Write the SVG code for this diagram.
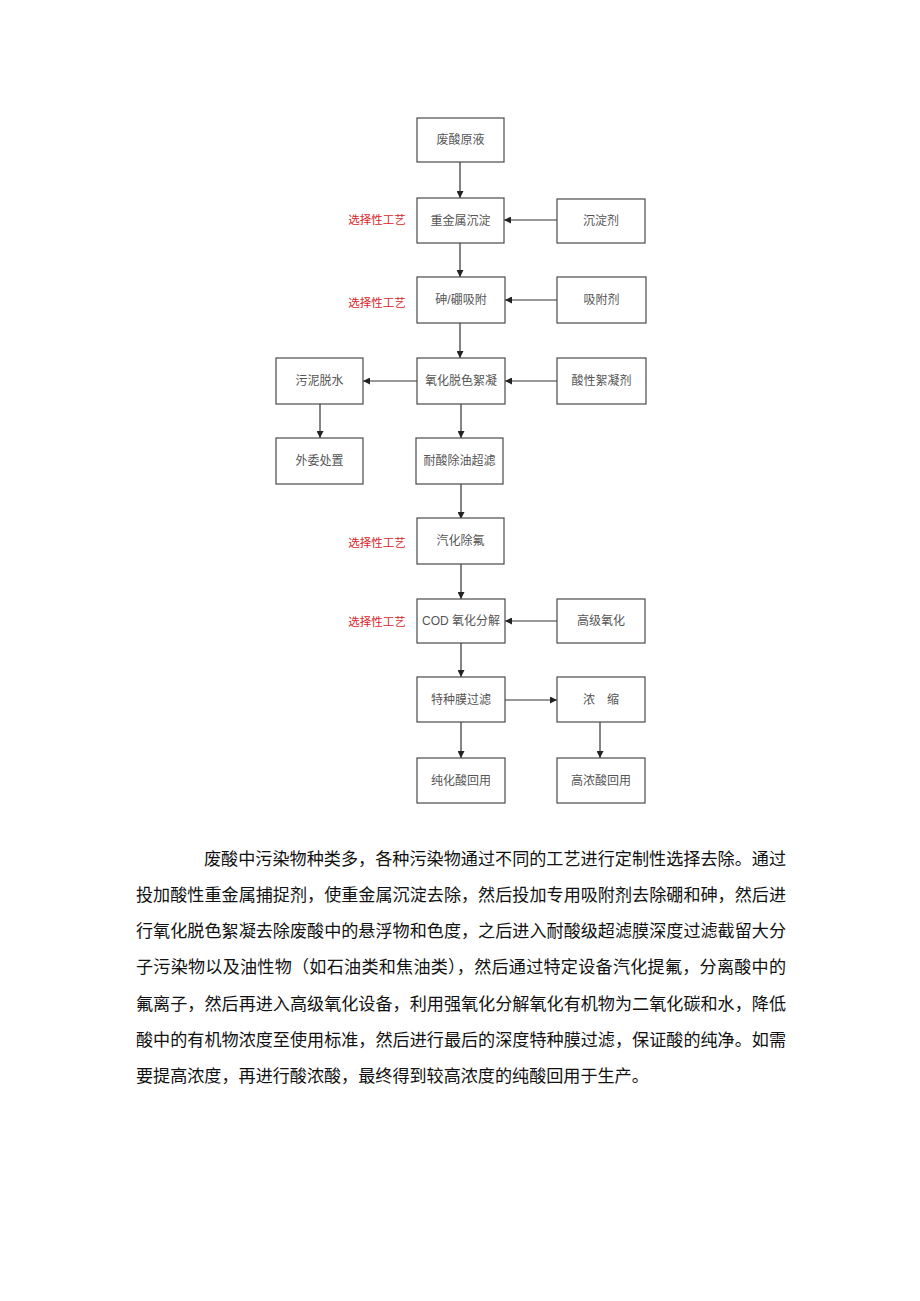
<svg xmlns="http://www.w3.org/2000/svg" width="920" height="1301" viewBox="0 0 920 1301">
<style>
.box{fill:#fff;stroke:#4a4a4a;stroke-width:1.2}
.bt{font-family:"Liberation Sans","Noto Sans CJK SC",sans-serif;font-size:12px;fill:#555;text-anchor:middle;dominant-baseline:central}
.red{font-family:"Liberation Sans","Noto Sans CJK SC",sans-serif;font-size:11.5px;fill:#d9252a;text-anchor:middle;dominant-baseline:central}
.ln{stroke:#333;stroke-width:1.2;fill:none;marker-end:url(#ah)}
.p{font-family:"Liberation Serif","Noto Sans CJK SC",serif;font-size:17.1px;fill:#111}
</style>
<defs>
<marker id="ah" viewBox="0 0 10 10" refX="10" refY="5" markerWidth="7" markerHeight="7" markerUnits="userSpaceOnUse" orient="auto">
<path d="M0,0 L10,5 L0,10 z" fill="#222"/>
</marker>
</defs>
<rect width="920" height="1301" fill="#fff"/>
<g id="connectors">
<line class="ln" x1="460" y1="162" x2="460" y2="198"/>
<line class="ln" x1="557" y1="220" x2="504" y2="220"/>
<line class="ln" x1="460" y1="243" x2="460" y2="277"/>
<line class="ln" x1="557" y1="300" x2="505" y2="300"/>
<line class="ln" x1="460" y1="323" x2="460" y2="358"/>
<line class="ln" x1="557" y1="381" x2="505" y2="381"/>
<line class="ln" x1="417" y1="381" x2="363" y2="381"/>
<line class="ln" x1="320" y1="404" x2="320" y2="438"/>
<line class="ln" x1="461" y1="404" x2="461" y2="438"/>
<line class="ln" x1="461" y1="484" x2="461" y2="519"/>
<line class="ln" x1="461" y1="564" x2="461" y2="599"/>
<line class="ln" x1="557" y1="621" x2="505" y2="621"/>
<line class="ln" x1="461" y1="643" x2="461" y2="677"/>
<line class="ln" x1="505" y1="700" x2="557" y2="700"/>
<line class="ln" x1="461" y1="722" x2="461" y2="758"/>
<line class="ln" x1="600" y1="722" x2="600" y2="758"/>
</g>
<g id="n1"><rect class="box" x="417" y="118" width="87" height="44"/><text class="bt" x="460.5" y="140">废酸原液</text></g>
<g id="n2"><rect class="box" x="417" y="198" width="87" height="45"/><text class="bt" x="460.5" y="220.5">重金属沉淀</text></g>
<g id="n2r"><rect class="box" x="557" y="199" width="88" height="44"/><text class="bt" x="601" y="221">沉淀剂</text></g>
<g id="n3"><rect class="box" x="417" y="277" width="88" height="46"/><text class="bt" x="461" y="300">砷/硼吸附</text></g>
<g id="n3r"><rect class="box" x="557" y="277" width="89" height="46"/><text class="bt" x="601.5" y="300">吸附剂</text></g>
<g id="n4"><rect class="box" x="417" y="358" width="88" height="46"/><text class="bt" x="461" y="381">氧化脱色絮凝</text></g>
<g id="n4l"><rect class="box" x="276" y="358" width="87" height="46"/><text class="bt" x="319.5" y="381">污泥脱水</text></g>
<g id="n4r"><rect class="box" x="557" y="358" width="89" height="46"/><text class="bt" x="601.5" y="381">酸性絮凝剂</text></g>
<g id="n5l"><rect class="box" x="276" y="438" width="87" height="46"/><text class="bt" x="319.5" y="461">外委处置</text></g>
<g id="n5"><rect class="box" x="416" y="438" width="87" height="46"/><text class="bt" x="459.5" y="461">耐酸除油超滤</text></g>
<g id="n6"><rect class="box" x="417" y="518" width="87" height="46"/><text class="bt" x="460.5" y="541">汽化除氟</text></g>
<g id="n7"><rect class="box" x="417" y="599" width="88" height="44"/><text class="bt" x="461" y="621">COD 氧化分解</text></g>
<g id="n7r"><rect class="box" x="557" y="599" width="88" height="44"/><text class="bt" x="601" y="621">高级氧化</text></g>
<g id="n8"><rect class="box" x="417" y="677" width="88" height="45"/><text class="bt" x="461" y="700">特种膜过滤</text></g>
<g id="n8r"><rect class="box" x="557" y="677" width="88" height="45"/><text class="bt" x="601" y="700">浓　缩</text></g>
<g id="n9"><rect class="box" x="417" y="758" width="88" height="45"/><text class="bt" x="461" y="781">纯化酸回用</text></g>
<g id="n9r"><rect class="box" x="557" y="758" width="88" height="45"/><text class="bt" x="601" y="781">高浓酸回用</text></g>
<g id="labels">
<text class="red" x="377" y="220">选择性工艺</text>
<text class="red" x="377" y="303">选择性工艺</text>
<text class="red" x="377" y="543">选择性工艺</text>
<text class="red" x="377" y="622">选择性工艺</text>
</g>
<g id="paragraph">
<text class="p" x="204" y="865" textLength="582" lengthAdjust="spacing">废酸中污染物种类多，各种污染物通过不同的工艺进行定制性选择去除。通过</text>
<text class="p" x="136" y="901" textLength="650" lengthAdjust="spacing">投加酸性重金属捕捉剂，使重金属沉淀去除，然后投加专用吸附剂去除硼和砷，然后进</text>
<text class="p" x="136" y="937" textLength="650" lengthAdjust="spacing">行氧化脱色絮凝去除废酸中的悬浮物和色度，之后进入耐酸级超滤膜深度过滤截留大分</text>
<text class="p" x="136" y="973" textLength="650" lengthAdjust="spacing">子污染物以及油性物（如石油类和焦油类），然后通过特定设备汽化提氟，分离酸中的</text>
<text class="p" x="136" y="1010" textLength="650" lengthAdjust="spacing">氟离子，然后再进入高级氧化设备，利用强氧化分解氧化有机物为二氧化碳和水，降低</text>
<text class="p" x="136" y="1046" textLength="650" lengthAdjust="spacing">酸中的有机物浓度至使用标准，然后进行最后的深度特种膜过滤，保证酸的纯净。如需</text>
<text class="p" x="136" y="1082">要提高浓度，再进行酸浓酸，最终得到较高浓度的纯酸回用于生产。</text>
</g>
</svg>
